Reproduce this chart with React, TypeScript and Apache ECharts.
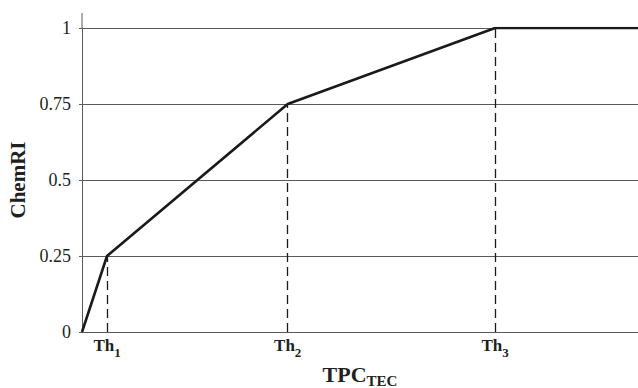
import React, { useEffect, useRef } from "react";
import * as echarts from "echarts";

// x positions on a 0..100 scale (threshold locations)
const thresholdNames = ["1", "2", "3"];
const thresholdX = [4.5, 37, 74.3];
const xMax = 100;
// ChemRI curve points
const curveX = [0, 4.5, 37, 74.3, 100];
const curveY = [0, 0.25, 0.75, 1, 1];
const yTicks = [0, 0.25, 0.5, 0.75, 1];

const INK = "#231f20";
const GRID = "#5a5a5a";
const SERIF = "'Liberation Serif', 'DejaVu Serif', serif";

export default function App() {
  const ref = useRef<HTMLDivElement>(null);
  useEffect(() => {
    const chart = echarts.init(ref.current!, undefined, { renderer: "svg" });
    const curve = curveX.map((x, i) => [x, curveY[i]]);
    chart.setOption({
      animation: false,
      grid: {
        left: 82,
        right: 0,
        top: 28,
        bottom: 56,
        containLabel: false,
        outerBoundsMode: "none",
      },
      xAxis: {
        type: "value",
        min: 0,
        max: xMax,
        splitLine: { show: false },
        axisLine: { show: true, lineStyle: { color: GRID, width: 1 } },
        axisTick: { show: false },
        axisLabel: {
          customValues: thresholdX,
          margin: -1,
          formatter: (v: number) => {
            const i = thresholdX.findIndex((t) => Math.abs(t - v) < 1e-6);
            return i >= 0 ? `{b|Th}{s|${thresholdNames[i]}}` : "";
          },
          rich: {
            b: { fontFamily: SERIF, fontWeight: "bold", fontSize: 17, lineHeight: 28, color: INK },
            s: {
              fontFamily: SERIF,
              fontWeight: "bold",
              fontSize: 13,
              lineHeight: 12,
              verticalAlign: "bottom",
              color: INK,
            },
          },
        },
        name: "{b|TPC}{s|TEC}",
        nameLocation: "middle",
        nameGap: 24,
        nameTextStyle: {
          rich: {
            b: { fontFamily: SERIF, fontWeight: "bold", fontSize: 22, lineHeight: 28, color: INK },
            s: {
              fontFamily: SERIF,
              fontWeight: "bold",
              fontSize: 15,
              lineHeight: 16,
              verticalAlign: "bottom",
              color: INK,
            },
          },
        },
      },
      yAxis: {
        type: "value",
        min: 0,
        max: 1,
        interval: 0.25,
        axisLine: { show: true, lineStyle: { color: GRID, width: 1 } },
        axisTick: { show: true, length: 3, lineStyle: { color: GRID } },
        splitLine: { show: true, lineStyle: { color: GRID, width: 1 } },
        axisLabel: {
          margin: 11,
          fontFamily: SERIF,
          fontSize: 18,
          color: INK,
          formatter: (v: number) => {
            const t = yTicks.find((y) => Math.abs(y - v) < 1e-9);
            return t === undefined ? "" : String(t);
          },
        },
        name: "ChemRI",
        nameLocation: "middle",
        nameGap: 52,
        nameTextStyle: { fontFamily: SERIF, fontWeight: "bold", fontSize: 21, color: INK },
      },
      graphic: [
        {
          type: "line",
          shape: { x1: 82, y1: 13, x2: 82, y2: 28 },
          style: { stroke: GRID, lineWidth: 1 },
          silent: true,
        },
      ],
      series: [
        {
          type: "line",
          data: curve,
          symbol: "none",
          lineStyle: { color: "#1a1a1a", width: 2.6 },
          markLine: {
            silent: true,
            symbol: "none",
            label: { show: false },
            lineStyle: { color: "#1a1a1a", type: [9, 5], width: 1.3 },
            data: thresholdX.map((x) => {
              const y = curveY[curveX.indexOf(x)];
              return [{ coord: [x, 0] }, { coord: [x, y] }];
            }),
          },
        },
      ],
    });
    return () => chart.dispose();
  }, []);
  return (
    <div
      ref={ref}
      style={{ position: "fixed", left: 0, top: 0, width: 638, height: 388, background: "#fff" }}
    />
  );
}
